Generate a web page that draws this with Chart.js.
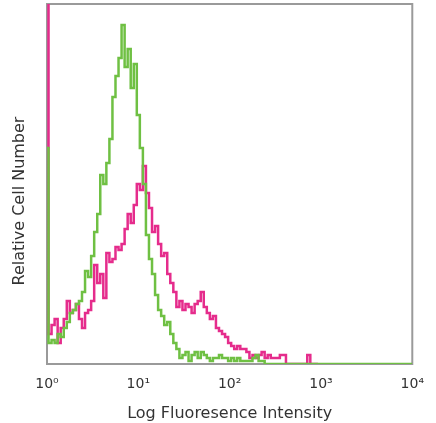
<!DOCTYPE html>
<html>
<head>
<meta charset="utf-8">
<script src="https://cdn.jsdelivr.net/npm/chart.js@4.4.1/dist/chart.umd.min.js"></script>
<style>
  html, body { margin: 0; padding: 0; background: #fff; }
  #wrap { width: 436px; height: 423px; }
</style>
</head>
<body>
<div id="wrap"><canvas id="histChart"></canvas></div>
<script>
// histogram channels, 30 per decade, starting at 10^0
const binsPerDecade = 30;
const tickLabels = ["10\u2070", "10\u00b9", "10\u00b2", "10\u00b3", "10\u2074"];

// green: events per channel
const greenCounts = [
  72, 7, 8, 7, 10, 9, 12, 14, 17, 18,
  20, 21, 24, 31, 29, 36, 44, 50, 63, 60,
  67, 75, 89, 96, 102, 113, 99, 105, 92, 100,
  83, 72, 60, 43, 35, 30, 23, 18, 16, 13,
  14, 10, 7, 5, 2, 3, 4, 1, 3, 4,
  2, 4, 3, 2, 1, 2, 2, 3, 2, 2,
  1, 2, 1, 2, 1, 1, 1, 1, 2, 3,
  1, 1, 0, 0, 0, 0, 0, 0, 0, 0,
  0, 0, 0, 0, 0, 0, 0, 0, 0, 0,
  0, 0, 0, 0, 0, 0, 0, 0, 0, 0,
  0, 0, 0, 0, 0, 0, 0, 0, 0, 0,
  0, 0, 0, 0, 0, 0, 0, 0, 0, 0,
  0
];

// magenta: events per channel (first channel is off scale)
const magentaCounts = [
  200, 10, 13, 15, 7, 12, 15, 21, 17, 18,
  20, 15, 12, 17, 18, 21, 33, 27, 30, 22,
  37, 34, 35, 39, 38, 40, 45, 50, 47, 53,
  60, 58, 66, 57, 52, 44, 46, 40, 36, 37,
  30, 27, 24, 19, 21, 18, 20, 19, 17, 20,
  21, 24, 19, 17, 15, 16, 12, 11, 10, 9,
  7, 6, 5, 6, 5, 5, 4, 2, 3, 2,
  3, 4, 2, 3, 2, 2, 2, 3, 3, 0,
  0, 0, 0, 0, 0, 0, 3, 0, 0, 0
];

const toPoints = (counts) => counts.map((c, i) => ({ x: i / binsPerDecade, y: c }));

// gray box round the plot, under the histograms
const framePlugin = {
  id: "frame",
  beforeDatasetsDraw(chart) {
    const { ctx, chartArea: a } = chart;
    ctx.save();
    ctx.strokeStyle = "#9a9a9a";
    ctx.lineWidth = 2;
    ctx.strokeRect(a.left, a.top, a.right - a.left, a.bottom - a.top);
    ctx.restore();
  },
};

// y title drawn by hand so it sits where the original has it
const yTitlePlugin = {
  id: "yTitle",
  afterDraw(chart) {
    const ctx = chart.ctx;
    ctx.save();
    ctx.translate(20, 201);
    ctx.rotate(-Math.PI / 2);
    ctx.font = "16px 'DejaVu Sans'";
    ctx.fillStyle = "#333";
    ctx.textAlign = "center";
    ctx.textBaseline = "middle";
    ctx.fillText("Relative Cell Number", 0, 0);
    ctx.restore();
  },
};

window.addEventListener("DOMContentLoaded", () => {
  const ctx = document.getElementById("histChart").getContext("2d");

  new Chart(ctx, {
    type: "line",
    data: {
      datasets: [
        {
          label: "Magenta",
          data: toPoints(magentaCounts),
          borderColor: "#e52c8c",
          borderWidth: 2.5,
          pointRadius: 0,
          stepped: "middle",
          fill: false,
          order: 2,
        },
        {
          label: "Green",
          data: toPoints(greenCounts),
          borderColor: "#6fc043",
          borderWidth: 2.5,
          pointRadius: 0,
          stepped: "middle",
          fill: false,
          order: 1,
        },
      ],
    },
    options: {
      responsive: true,
      maintainAspectRatio: false,
      animation: false,
      layout: { padding: { left: 47, right: 20, top: 4, bottom: 0 } },
      plugins: {
        legend: { display: false },
        tooltip: { enabled: false },
      },
      scales: {
        x: {
          type: "linear",
          min: 0,
          max: 4,
          grid: { display: false, drawTicks: false },
          border: { display: false },
          ticks: {
            stepSize: 1,
            padding: 12,
            color: "#333",
            font: { family: "DejaVu Sans", size: 14 },
            callback: (v) => tickLabels[v],
          },
          title: {
            display: true,
            text: "Log Fluoresence Intensity",
            color: "#333",
            font: { family: "DejaVu Sans", size: 16 },
            padding: { top: 0, bottom: 0 },
          },
          afterFit: (scale) => { scale.height = 59; },
        },
        y: {
          display: false,
          min: 0,
          max: 120,
        },
      },
    },
    plugins: [framePlugin, yTitlePlugin],
  });
});
</script>
</body>
</html>
